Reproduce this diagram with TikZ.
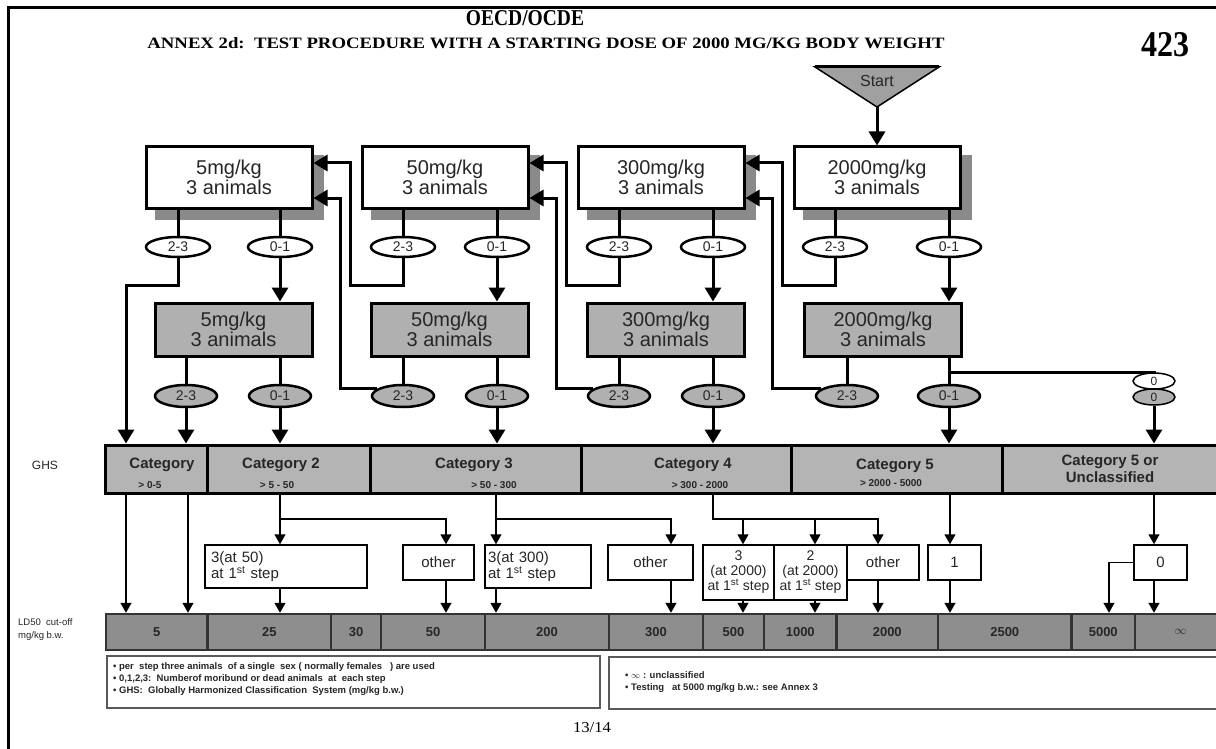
\documentclass[tikz,border=0pt]{standalone}
\usepackage{fontspec}
\setmainfont{Liberation Sans}
\newfontfamily\hdrfont{Liberation Serif}
\usetikzlibrary{arrows.meta,backgrounds,shapes.geometric}
\definecolor{boxgray}{HTML}{B0B0B0}
\definecolor{catgray}{HTML}{B4B4B4}
\definecolor{ldgray}{HTML}{8E8E8E}
\definecolor{shadowgray}{HTML}{8A8A8A}
\definecolor{startgray}{HTML}{A0A0A0}
\definecolor{txt}{HTML}{262626}
\begin{document}
\begin{tikzpicture}[x=1pt,y=-1pt,
  flow/.style={line width=3pt},
  flowarr/.style={line width=3pt,-{Triangle[length=14pt,width=16pt]}},
  thinln/.style={line width=1.5pt},
  thinarr/.style={line width=1.5pt,-{Triangle[length=10pt,width=11pt]}},
  topbox/.style={draw,line width=3pt,fill=white,minimum width=166pt,minimum height=61pt,inner sep=0pt,align=center,text=txt,font=\fontsize{20}{20}\selectfont},
  midbox/.style={topbox,fill=boxgray,minimum width=157pt,minimum height=53pt},
  oval/.style={ellipse,draw,line width=2.5pt,fill=white,minimum width=64pt,minimum height=20pt,inner sep=0pt,text=txt,font=\fontsize{14}{14}\selectfont},
  ovalg/.style={oval,fill=boxgray,minimum width=62pt,minimum height=22pt},
  zoval/.style={oval,line width=1.5pt,minimum width=42pt,minimum height=16pt,font=\fontsize{12}{12}\selectfont},
  catcell/.style={draw,line width=3pt,fill=catgray,minimum height=48pt,inner sep=0pt},
  catlab/.style={text=txt,font=\bfseries\fontsize{15}{17}\selectfont,align=center,inner sep=0pt},
  catsub/.style={text=txt,font=\bfseries\fontsize{10}{10}\selectfont,inner sep=0pt},
  ldcell/.style={draw=black!80,line width=2.5pt,fill=ldgray,minimum height=36pt,inner sep=0pt,text=txt,font=\bfseries\fontsize{13}{13}\selectfont},
  sbox/.style={draw,line width=1.5pt,fill=white,inner sep=1pt,text=txt,font=\fontsize{15}{15}\selectfont,align=center},
  notebox/.style={draw=black!65,line width=2pt,fill=white,inner sep=0pt},
  notetext/.style={anchor=west,align=left,text=txt,font=\bfseries\fontsize{9.5}{12}\selectfont,inner sep=0pt},
  sidelab/.style={text=txt,inner sep=0pt}
]
\useasboundingbox (0,0) rectangle (1216,749);

% frame
\draw[line width=3pt] (8,749) -- (8,8) -- (1216,8);

% header
\node[font=\hdrfont\bfseries,inner sep=0pt] (title) at (525,18) {\resizebox{118pt}{15pt}{OECD/OCDE}};
\node[font=\hdrfont\bfseries,inner sep=0pt] (subtitle) at (546,43) {\resizebox{797pt}{11pt}{ANNEX 2d:\ \ TEST PROCEDURE WITH A STARTING DOSE OF 2000 MG/KG BODY WEIGHT}};
\node[font=\hdrfont\bfseries,inner sep=0pt] (pagenum) at (1165,45) {\resizebox{48pt}{24pt}{423}};

% start triangle
\draw[line width=1.5pt,fill=startgray] (815,67) -- (939,67) -- (877,107) -- cycle;
\draw[line width=3pt] (815,67) -- (939,67);
\coordinate (sapex) at (877,107);
\node[text=txt,font=\fontsize{16}{16}\selectfont,inner sep=0pt] (start) at (877,81) {Start};

% top boxes
\node[topbox] (b1) at (229,177.5) {5mg/kg\\3 animals};
\node[topbox] (b2) at (445,177.5) {50mg/kg\\3 animals};
\node[topbox] (b3) at (661,177.5) {300mg/kg\\3 animals};
\node[topbox] (b4) at (877,177.5) {2000mg/kg\\3 animals};

% middle boxes
\node[midbox] (m1) at (233.5,329.5) {5mg/kg\\3 animals};
\node[midbox] (m2) at (449.5,329.5) {50mg/kg\\3 animals};
\node[midbox] (m3) at (666,329.5) {300mg/kg\\3 animals};
\node[midbox] (m4) at (883,329.5) {2000mg/kg\\3 animals};

% top ovals
\node[oval] (ta1) at (178,247) {2-3};
\node[oval] (tb1) at (280,247) {0-1};
\node[oval] (ta2) at (403,247) {2-3};
\node[oval] (tb2) at (497,247) {0-1};
\node[oval] (ta3) at (619,247) {2-3};
\node[oval] (tb3) at (713,247) {0-1};
\node[oval] (ta4) at (835,247) {2-3};
\node[oval] (tb4) at (949,247) {0-1};

% middle ovals
\node[ovalg] (ma1) at (186,396) {2-3};
\node[ovalg] (mb1) at (280,396) {0-1};
\node[ovalg] (ma2) at (403,396) {2-3};
\node[ovalg] (mb2) at (497,396) {0-1};
\node[ovalg] (ma3) at (619,396) {2-3};
\node[ovalg] (mb3) at (713,396) {0-1};
\node[ovalg] (ma4) at (847,396) {2-3};
\node[ovalg] (mb4) at (949,396) {0-1};
\node[zoval] (z1) at (1154,381) {0};
\node[zoval,fill=boxgray] (z2) at (1154,397) {0};

% GHS category bar
\node[catcell,minimum width=102.5pt] (cat1) at (156.25,469) {};
\node[catcell,minimum width=162.5pt] (cat2) at (288.75,469) {};
\node[catcell,minimum width=211pt] (cat3) at (475.5,469) {};
\node[catcell,minimum width=210pt] (cat4) at (686,469) {};
\node[catcell,minimum width=211pt] (cat5) at (896.5,469) {};
\node[catcell,minimum width=224pt] (cat6) at (1114,469) {};
\node[catlab] (cl1) at (162,465) {Category};
\node[catsub] (cs1) at (150,485) {> 0-5};
\node[catlab] (cl2) at (281,465) {Category 2};
\node[catsub] (cs2) at (277,485) {> 5 - 50};
\node[catlab] (cl3) at (474,465) {Category 3};
\node[catsub] (cs3) at (494,485) {> 50 - 300};
\node[catlab] (cl4) at (693,465) {Category 4};
\node[catsub] (cs4) at (700,485) {> 300 - 2000};
\node[catlab] (cl5) at (895,466) {Category 5};
\node[catsub] (cs5) at (891,483) {> 2000 - 5000};
\node[catlab] (cl6) at (1110,469) {Category 5 or\\Unclassified};
\node[sidelab,font=\fontsize{12}{12}\selectfont] (ghs) at (45,465) {GHS};

% second-level boxes
\node[sbox,minimum width=162pt,minimum height=43pt,text width=150pt,inner xsep=6pt,align=left] (s1) at (286,566.5) {3(at 50)\\at 1\textsuperscript{st} step};
\node[sbox,minimum width=71pt,minimum height=35pt] (s2) at (438.5,562.5) {other};
\node[sbox,minimum width=106pt,minimum height=43pt,text width=100pt,inner xsep=3pt,align=left] (s3) at (538,566.5) {3(at 300)\\at 1\textsuperscript{st} step};
\node[sbox,minimum width=85pt,minimum height=35pt] (s4) at (650.5,562.5) {other};
\node[sbox,minimum width=71pt,minimum height=55pt,font=\fontsize{14}{15}\selectfont] (s5) at (738.5,572.5) {3\\(at 2000)\\at 1\textsuperscript{st} step};
\node[sbox,minimum width=73pt,minimum height=55pt,font=\fontsize{14}{15}\selectfont] (s6) at (810.5,572.5) {2\\(at 2000)\\at 1\textsuperscript{st} step};
\node[sbox,minimum width=72pt,minimum height=35pt] (s7) at (883,562.5) {other};
\node[sbox,minimum width=53pt,minimum height=35pt] (s8) at (954.5,562.5) {1};
\node[sbox,minimum width=53pt,minimum height=35pt] (s9) at (1160.5,562.5) {0};

% LD50 bar
\foreach \n/\a/\b/\t in {1/106/207.5/5,2/207.5/331/25,3/331/381/30,4/381/485/50,5/485/609/200,6/609/703/300,7/703/764/500,8/764/836.5/1000,9/836.5/938/2000,10/938/1071.5/2500,11/1071.5/1135/5000,12/1135/1226/$\infty$}{
  \pgfmathsetmacro\w{\b-\a}
  \pgfmathsetmacro\c{(\a+\b)/2}
  \node[ldcell,minimum width=\w pt] (ld\n) at (\c,632) {\t};
}
\node[sidelab,anchor=west,align=left,font=\fontsize{9.5}{13}\selectfont] (ldlab) at (18,630) {LD50\ \ cut-off\\mg/kg b.w.};

% notes
\node[notebox,minimum width=493pt,minimum height=52pt] (note1) at (353.5,682) {};
\node[notetext] (nt1) at (113,679) {\textbullet\ per\ \ step three animals\ \ of a single\ \ sex (\ normally females\ \ \ ) are used\\\textbullet\ 0,1,2,3:\ \ Numberof moribund or dead animals\ \ at\ \ each step\\\textbullet\ GHS:\ \ Globally Harmonized Classification\ \ System (mg/kg b.w.)};
\node[notebox,minimum width=617pt,minimum height=52pt] (note2) at (917.5,683) {};
\node[notetext] (nt2) at (625,682) {\textbullet\ $\infty$ : unclassified\\\textbullet\ Testing\ \ \ at 5000 mg/kg b.w.: see Annex 3};
\node[font=\hdrfont,inner sep=0pt] (pg) at (592,728) {\resizebox{38pt}{10pt}{13/14}};

% shadows and background
\begin{scope}[on background layer]
  \fill[white] (0,0) rectangle (1216,749);
  \foreach \i in {1,...,4}
    \fill[shadowgray] ([shift={(10,10)}]b\i.north west) rectangle ([shift={(10,10)}]b\i.south east);
\end{scope}

% helper x coordinates
\foreach \v in {126,188,280,446,496,671,713,743,815,878,950,1109,1154}
  \coordinate (x\v) at (\v,0);
\coordinate (y519) at (0,519);

% start arrow
\draw[flowarr] (sapex) -- (b4.north);

% box to oval lines
\foreach \i in {1,...,4}{
  \draw[flow] (b\i.south -| ta\i) -- (ta\i.north);
  \draw[flow] (b\i.south -| tb\i) -- (tb\i.north);
  \draw[flowarr] (tb\i.south) -- (tb\i.south |- m\i.north);
  \draw[flow] (m\i.south -| ma\i) -- (ma\i.north);
  \draw[flow] (m\i.south -| mb\i) -- (mb\i.north);
}

% feedback loops
\draw[flowarr] (ta2.south) |- (350,285) |- ([yshift=14.5pt]b1.east);
\draw[flowarr] (ma2.165) -| (340,198) -- ([yshift=-20.5pt]b1.east);
\draw[flowarr] (ta3.south) |- (566,285) |- ([yshift=14.5pt]b2.east);
\draw[flowarr] (ma3.165) -| (556,198) -- ([yshift=-20.5pt]b2.east);
\draw[flowarr] (ta4.south) |- (782,285) |- ([yshift=14.5pt]b3.east);
\draw[flowarr] (ma4.165) -| (772,198) -- ([yshift=-20.5pt]b3.east);

% to GHS bar
\draw[flowarr] (ta1.south) |- (x126 |- 0,285) -- (x126 |- cat1.north);
\draw[flowarr] (ma1.south) -- (ma1.south |- cat1.north);
\draw[flowarr] (mb1.south) -- (mb1.south |- cat2.north);
\draw[flowarr] (mb2.south) -- (mb2.south |- cat3.north);
\draw[flowarr] (mb3.south) -- (mb3.south |- cat4.north);
\draw[flowarr] (mb4.south) -- (mb4.south |- cat5.north);
\draw[flow] (949,372) -| (z1.north);
\draw[flowarr] (z2.south) -- (z2.south |- cat6.north);

% GHS to second level
\draw[thinarr] (cat1.south -| x126) -- (x126 |- ld1.north);
\draw[thinarr] (cat1.south -| x188) -- (x188 |- ld1.north);
\draw[thinarr] (cat2.south -| x280) -- (x280 |- s1.north);
\draw[thinarr] (x280 |- y519) -| (x446 |- s2.north);
\draw[thinarr] (cat3.south -| x496) -- (x496 |- s3.north);
\draw[thinarr] (x496 |- y519) -| (x671 |- s4.north);
\draw[thinarr] (cat4.south -| x713) |- (x878 |- y519) -- (x878 |- s7.north);
\draw[thinarr] (x743 |- y519) -- (x743 |- s5.north);
\draw[thinarr] (x815 |- y519) -- (x815 |- s6.north);
\draw[thinarr] (cat5.south -| x950) -- (x950 |- s8.north);
\draw[thinarr] (cat6.south -| x1154) -- (x1154 |- s9.north);

% second level to LD50
\draw[thinarr] (s1.south -| x280) -- (x280 |- ld2.north);
\draw[thinarr] (s2.south -| x446) -- (x446 |- ld4.north);
\draw[thinarr] (s3.south -| x496) -- (x496 |- ld5.north);
\draw[thinarr] (s4.south -| x671) -- (x671 |- ld6.north);
\draw[thinarr] (s5.south -| x743) -- (x743 |- ld7.north);
\draw[thinarr] (s6.south -| x815) -- (x815 |- ld8.north);
\draw[thinarr] (s7.south -| x878) -- (x878 |- ld9.north);
\draw[thinarr] (s8.south -| x950) -- (x950 |- ld10.north);
\draw[thinarr] (s9.south -| x1154) -- (x1154 |- ld12.north);
\draw[thinarr] (s9.west) -| (x1109 |- ld11.north);
\end{tikzpicture}
\end{document}
